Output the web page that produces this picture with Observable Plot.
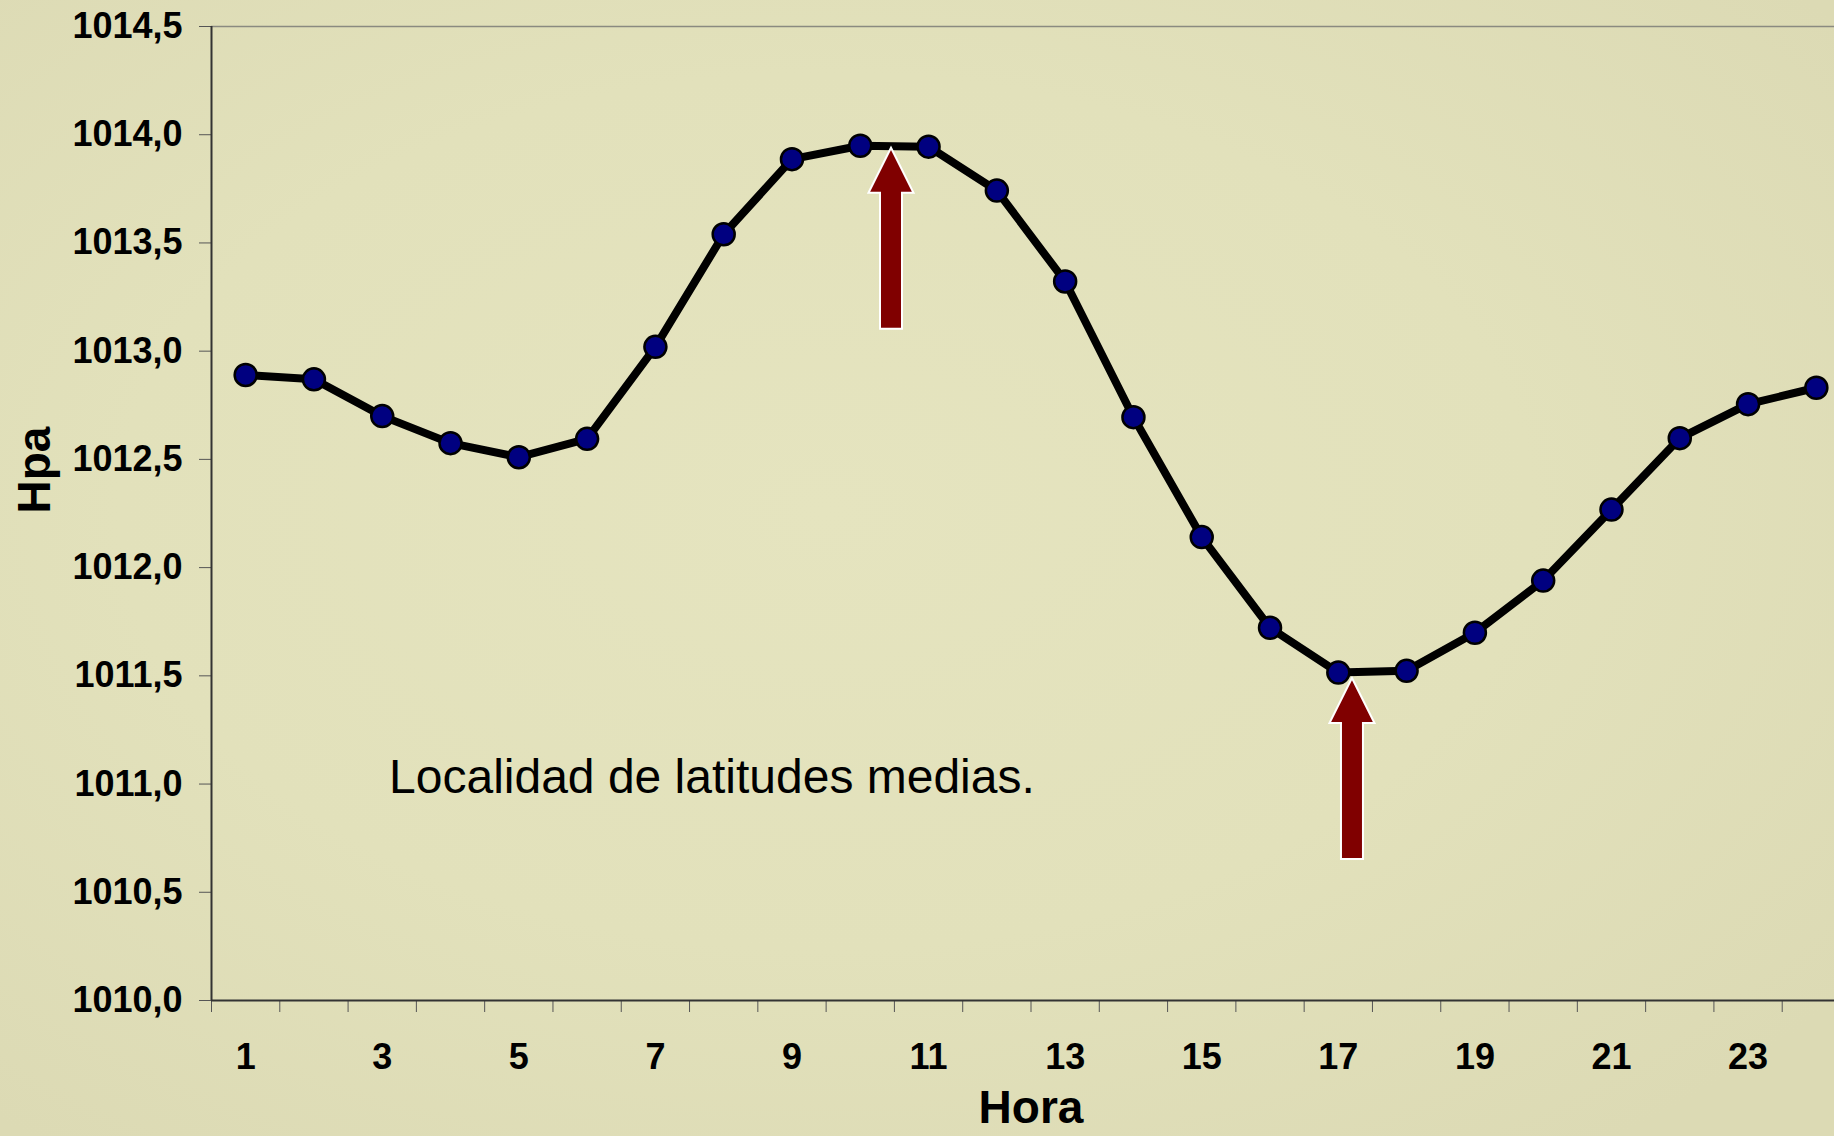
<!DOCTYPE html>
<html>
<head>
<meta charset="utf-8">
<script src="https://cdn.jsdelivr.net/npm/d3@7"></script>
<script src="https://cdn.jsdelivr.net/npm/@observablehq/plot@0.6"></script>
<style>
  html, body { margin: 0; padding: 0; overflow: hidden; }
  body {
    width: 1834px; height: 1136px;
    background: radial-gradient(ellipse 70% 70% at 45% 45%, #e5e4bf 0%, #e2e1bb 55%, #dcdab4 100%);
    font-family: Arial, "Liberation Sans", sans-serif;
  }
  #chart svg { display: block; }
</style>
</head>
<body>
<div id="chart"></div>
<script>
// Data
const hours = [1,2,3,4,5,6,7,8,9,10,11,12,13,14,15,16,17,18,19,20,21,22,23,24];
const hpa = [1012.89, 1012.87, 1012.70, 1012.575, 1012.51, 1012.595, 1013.02, 1013.54,
             1013.887, 1013.949, 1013.945, 1013.742, 1013.322, 1012.695, 1012.141, 1011.722,
             1011.515, 1011.523, 1011.699, 1011.94, 1012.268, 1012.598, 1012.755, 1012.831];
const yTicks = [1010, 1010.5, 1011, 1011.5, 1012, 1012.5, 1013, 1013.5, 1014, 1014.5];
const xLabelTicks = [1, 3, 5, 7, 9, 11, 13, 15, 17, 19, 21, 23];
const xBoundaryTicks = [0.5, 1.5, 2.5, 3.5, 4.5, 5.5, 6.5, 7.5, 8.5, 9.5, 10.5, 11.5, 12.5,
                        13.5, 14.5, 15.5, 16.5, 17.5, 18.5, 19.5, 20.5, 21.5, 22.5, 23.5, 24.5];
const arrowHora = [10.45, 17.2];
const arrowHpa = [1013.94, 1011.49];
const noteText = ["Localidad de latitudes medias."];
const noteHora = [3.1];
const noteHpa = [1011.03];
const xTitle = "Hora";
const yTitle = "Hpa";

const series = hours.map((h, i) => ({hora: h, hpa: hpa[i]}));
const arrows = arrowHora.map((h, i) => ({hora: h, hpa: arrowHpa[i]}));
const notes = noteText.map((t, i) => ({text: t, hora: noteHora[i], hpa: noteHpa[i]}));

// Block arrow symbol (tip at the anchor, pointing up)
const blockArrow = {
  draw(ctx) {
    ctx.moveTo(0, 0);
    ctx.lineTo(22.5, 45);
    ctx.lineTo(11, 45);
    ctx.lineTo(11, 181);
    ctx.lineTo(-11, 181);
    ctx.lineTo(-11, 45);
    ctx.lineTo(-22.5, 45);
    ctx.closePath();
  }
};

const fmt = d => d.toFixed(1).replace(".", ",");

const chart = Plot.plot({
  width: 1834,
  height: 1136,
  marginLeft: 211,
  marginRight: -16,
  marginTop: 26,
  marginBottom: 136,
  style: {background: "transparent", fontFamily: "Arial, 'Liberation Sans', sans-serif", overflow: "hidden"},
  x: {type: "linear", domain: [0.5, 24.5]},
  y: {type: "linear", domain: [1010, 1014.5]},
  marks: [
    Plot.ruleY([1014.5], {stroke: "#8a8a80", strokeWidth: 1.5}),
    Plot.axisY({ticks: yTicks, tickSize: 12, tickPadding: 17, tickFormat: fmt, fontSize: 36,
                fontWeight: "bold", stroke: "#555", fill: "#000", label: null}),
    Plot.axisX({ticks: xBoundaryTicks, tickSize: 12, tickFormat: () => "", stroke: "#555", label: null}),
    Plot.axisX({ticks: xLabelTicks, tickSize: 0, tickPadding: 43, tickFormat: d => String(d), fontSize: 36,
                fontWeight: "bold", fill: "#000", label: null}),
    Plot.ruleX([0.5], {stroke: "#333", strokeWidth: 2}),
    Plot.ruleY([1010], {stroke: "#333", strokeWidth: 2}),
    Plot.line(series, {x: "hora", y: "hpa", stroke: "#000", strokeWidth: 8}),
    Plot.dot(series, {x: "hora", y: "hpa", r: 11, fill: "#000080", stroke: "#000", strokeWidth: 2.5}),
    Plot.dot(arrows, {x: "hora", y: "hpa", symbol: blockArrow, fill: "#800000", stroke: "#ffffff", strokeWidth: 2}),
    Plot.text(notes, {x: "hora", y: "hpa", text: "text", textAnchor: "start", lineAnchor: "middle",
                      fontSize: 48, fill: "#000"}),
    Plot.text([yTitle], {frameAnchor: "left", dx: -176, rotate: -90, lineAnchor: "middle", fontSize: 46, fontWeight: "bold", fill: "#000"}),
    Plot.text([xTitle], {frameAnchor: "bottom", dy: 108, lineAnchor: "middle", fontSize: 46, fontWeight: "bold", fill: "#000"})
  ]
});
document.getElementById("chart").appendChild(chart);
</script>
</body>
</html>
